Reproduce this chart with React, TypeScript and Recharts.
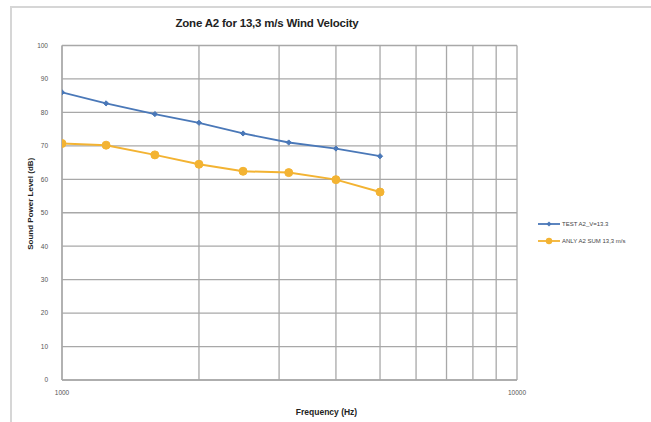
import React from 'react';
import { LineChart, Line, XAxis, YAxis, CartesianGrid, ReferenceLine, Label } from 'recharts';

// 1/3-octave band centre frequencies (Hz)
const frequencies = [1000, 1250, 1600, 2000, 2500, 3150, 4000, 5000];
// measured sound power levels (dB)
const testLevels = [86.0, 82.7, 79.5, 76.9, 73.7, 71.0, 69.2, 66.9];
// analysis sum sound power levels (dB)
const analysisLevels = [70.7, 70.2, 67.3, 64.5, 62.4, 62.0, 59.9, 56.2];

const yTicks = [0, 10, 20, 30, 40, 50, 60, 70, 80, 90, 100];
const xTicks = [1000, 10000];
const logGridLines = [1000, 2000, 3000, 4000, 5000, 6000, 7000, 8000, 9000, 10000];

const seriesNames = ['TEST A2_V=13.3', 'ANLY A2 SUM 13,3 m/s'];
const chartTitle = 'Zone A2 for 13,3 m/s Wind Velocity';

const BLUE = '#4a78b8';
const YELLOW = '#f3b332';
const GRID = '#a8a8a8';
const FONT = '"Liberation Sans", Arial, sans-serif';

const data = frequencies.map((f, i) => ({
  freq: f,
  test: testLevels[i],
  anly: analysisLevels[i],
}));

const Diamond = (props: any) => {
  const { cx, cy, index } = props;
  if (cx == null || cy == null) return null;
  const s = 2.6;
  return (
    <polygon
      key={`d-${index}`}
      points={`${cx},${cy - s} ${cx + s},${cy} ${cx},${cy + s} ${cx - s},${cy}`}
      fill={BLUE}
      stroke={BLUE}
    />
  );
};

const Dot = (props: any) => {
  const { cx, cy, index } = props;
  if (cx == null || cy == null) return null;
  return <circle key={`c-${index}`} cx={cx} cy={cy} r={4} fill={YELLOW} stroke={YELLOW} />;
};

export default function App() {
  return (
    <div style={{ position: 'absolute', left: 0, top: 0, width: 651, height: 422, background: '#fff', overflow: 'hidden' }}>
      <div
        style={{
          position: 'absolute',
          left: 10,
          top: 6,
          width: 660,
          height: 430,
          borderLeft: '2px solid #d6d6d6',
          borderTop: '2px solid #d6d6d6',
        }}
      />
      <div
        style={{
          position: 'absolute',
          left: 0,
          top: 17,
          width: 534,
          textAlign: 'center',
          fontFamily: FONT,
          fontWeight: 'bold',
          fontSize: 11.5,
          color: '#222',
          letterSpacing: -0.2,
        }}
      >
        {chartTitle}
      </div>

      <LineChart
        width={651}
        height={422}
        data={data}
        margin={{ top: 45.5, right: 134, left: 20, bottom: 12 }}
        style={{ position: 'absolute', left: 0, top: 0 }}
      >
        <CartesianGrid horizontal vertical={false} stroke={GRID} strokeWidth={1.3} />
        {logGridLines.map((v) => (
          <ReferenceLine key={v} x={v} stroke={GRID} strokeWidth={1.3} />
        ))}
        <XAxis
          dataKey="freq"
          type="number"
          scale="log"
          domain={[1000, 10000]}
          ticks={xTicks}
          allowDataOverflow
          height={30}
          tickLine={false}
          axisLine={{ stroke: GRID, strokeWidth: 1.3 }}
          tick={{ fontSize: 6.5, fill: '#555', fontFamily: FONT }}
          tickMargin={4}
        >
          <Label
            value="Frequency (Hz)"
            position="insideBottom"
            offset={-5}
            dx={37}
            style={{ fontSize: 8.5, fontWeight: 'bold', fill: '#222', fontFamily: FONT }}
          />
        </XAxis>
        <YAxis
          type="number"
          domain={[0, 100]}
          ticks={yTicks}
          width={42}
          tickLine={false}
          axisLine={{ stroke: GRID, strokeWidth: 1.3 }}
          tick={{ fontSize: 6.5, fill: '#555', fontFamily: FONT }}
          tickMargin={8}
        >
          <Label
            value="Sound Power Level (dB)"
            angle={-90}
            position="insideLeft"
            offset={10}
            dy={-9}
            style={{ textAnchor: 'middle', fontSize: 8, fontWeight: 'bold', fill: '#222', fontFamily: FONT }}
          />
        </YAxis>
        <Line
          type="linear"
          dataKey="test"
          name={seriesNames[0]}
          stroke={BLUE}
          strokeWidth={1.8}
          dot={Diamond}
          activeDot={false}
          isAnimationActive={false}
        />
        <Line
          type="linear"
          dataKey="anly"
          name={seriesNames[1]}
          stroke={YELLOW}
          strokeWidth={2}
          dot={Dot}
          activeDot={false}
          isAnimationActive={false}
        />
      </LineChart>

      {/* legend */}
      <div style={{ position: 'absolute', left: 538, top: 215, fontFamily: FONT, fontSize: 6, color: '#444' }}>
        {seriesNames.map((name, i) => (
          <div key={name} style={{ display: 'flex', alignItems: 'center', height: 17 }}>
            <svg width={22} height={10} style={{ marginRight: 2 }}>
              <line x1={0} y1={5} x2={22} y2={5} stroke={i === 0 ? BLUE : YELLOW} strokeWidth={1.8} />
              {i === 0 ? (
                <polygon points="11,2.4 13.6,5 11,7.6 8.4,5" fill={BLUE} />
              ) : (
                <circle cx={11} cy={5} r={3.2} fill={YELLOW} />
              )}
            </svg>
            <span>{name}</span>
          </div>
        ))}
      </div>
    </div>
  );
}
